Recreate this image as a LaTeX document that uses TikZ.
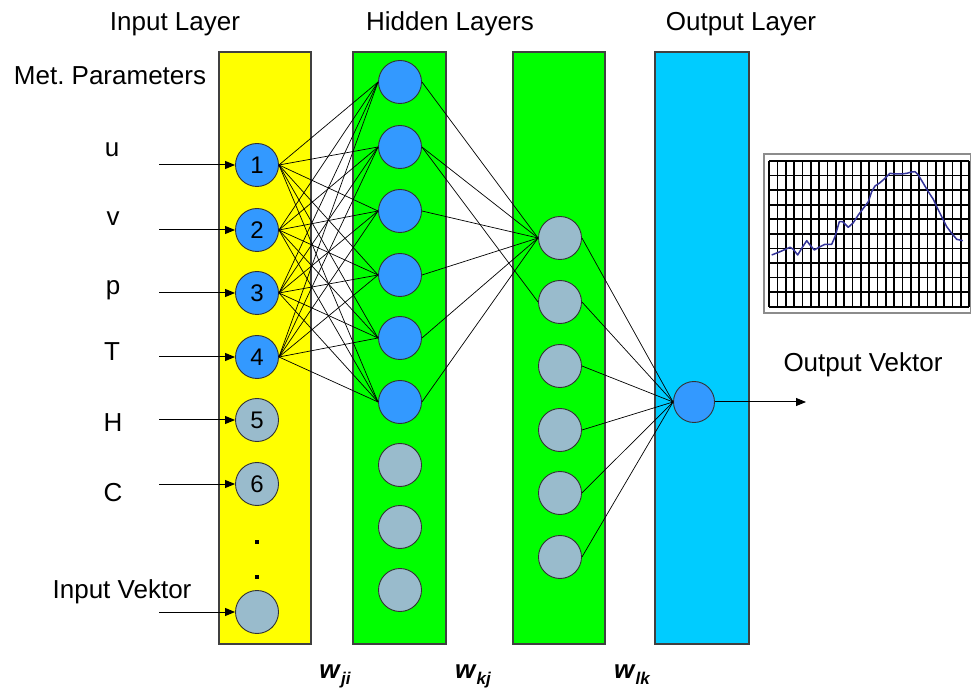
\documentclass[tikz,border=0pt]{standalone}
\usepackage{fontspec}
\setmainfont{Liberation Sans}
\usetikzlibrary{arrows.meta}

\definecolor{layeryellow}{HTML}{FFFF00}
\definecolor{layergreen}{HTML}{00FF00}
\definecolor{layercyan}{HTML}{00CCFF}
\definecolor{unitblue}{HTML}{3399FF}
\definecolor{unitgray}{HTML}{99BBCC}
\definecolor{curveblue}{HTML}{333399}

% weight label: bold italic w with a lowered index
\newcommand{\weight}[1]{\textbf{\textit{w}}\raisebox{-0.5ex}{\fontsize{17}{17}\selectfont\bfseries\itshape #1}}

\begin{document}
\begin{tikzpicture}[x=1pt, y=-1pt, >={Triangle[length=10pt,width=8pt]}]
  \tikzset{layer/.style={draw=black!75, line width=1.2pt},
           unit/.style={draw=black!80, line width=0.9pt, shape=circle, minimum size=43pt,
                        inner sep=0pt, font=\fontsize{24}{24}\selectfont},
           label/.style={font=\fontsize{26}{26}\selectfont},
           title/.style={label, anchor=base},
           wire/.style={line width=0.7pt},
           feed/.style={->, line width=1pt},
           gridline/.style={draw=black, line width=1.7pt}}
  \useasboundingbox (0,0) rectangle (972,692);

  % layer bands
  \draw[layer, fill=layeryellow] (219,52) rectangle (311,644);
  \draw[layer, fill=layergreen] (353,52) rectangle (446,644);
  \draw[layer, fill=layergreen] (513,52) rectangle (605,644);
  \draw[layer, fill=layercyan] (655,52) rectangle (749,644);

  \node[title] (tin) at (175,31) {Input Layer};
  \node[title] (thid) at (450,31) {Hidden Layers};
  \node[title] (tout) at (741,31) {Output Layer};
  \node[title] (tmet) at (110,85) {Met.\ Parameters};
  \node[title] (tvin) at (122,598) {Input Vektor};
  \node[title] (tvout) at (863,372) {Output Vektor};

  % input units
  \foreach \n/\y in {1/165,2/230,3/293,4/357}
    \node[unit, fill=unitblue] (in\n) at (257,\y) {\n};
  \foreach \n/\y in {5/420,6/484}
    \node[unit, fill=unitgray] (in\n) at (257,\y) {\n};
  \node[unit, fill=unitgray] (in7) at (257,612) {};
  \fill (255,540) rectangle (259,544);
  \fill (255,575) rectangle (259,579);

  % met. parameters feeding the inputs
  \foreach \n/\t/\x/\ly in {1/u/112/150,2/v/113/219,3/p/113/290,4/T/112/352,5/H/113/423,6/C/113/493} {
    \node[label] (par\n) at (\x,\ly) {\t};
    \coordinate (src\n) at (159,0 |- in\n);
    \draw[feed] (src\n) -- (in\n);
  }
  \coordinate (src7) at (159,612);
  \draw[feed] (src7) -- (in7);

  % hidden units
  \foreach \n/\y in {1/82,2/147,3/211,4/275,5/338,6/402}
    \node[unit, fill=unitblue] (hid\n) at (400,\y) {};
  \foreach \n/\y in {7/465,8/527,9/590}
    \node[unit, fill=unitgray] (hid\n) at (400,\y) {};
  \foreach \n/\y in {1/238,2/302,3/366,4/430,5/493,6/557}
    \node[unit, fill=unitgray] (sec\n) at (560,\y) {};

  \node[unit, fill=unitblue, minimum size=41pt] (out) at (694,402) {};
  \coordinate (outend) at (806,402);
  \draw[feed] (out) -- (outend);

  % weights
  \foreach \a in {1,...,4}
    \foreach \b in {1,...,6}
      \draw[wire] (in\a.east) -- (hid\b.west);
  \foreach \b in {1,...,6}
    \draw[wire] (hid\b.east) -- (sec1.west);
  \draw[wire] (hid2.east) -- (sec2.west);
  \foreach \b in {1,...,6}
    \draw[wire] (sec\b.east) -- (out.west);

  \node[title] (wji) at (335,678) {\weight{ji}};
  \node[title] (wkj) at (473,678) {\weight{kj}};
  \node[title] (wlk) at (632,678) {\weight{lk}};

  % output chart
  \draw[draw=black!45, line width=1.2pt, fill=white] (764,154) rectangle (970.5,313);
  \foreach \i in {0,...,24}
    \draw[gridline] ({769.3+8.333*\i},161) -- ({769.3+8.333*\i},306.7);
  \foreach \j in {0,...,10}
    \draw[gridline] (769.3,{161+14.57*\j}) -- (969.3,{161+14.57*\j});
  \draw[curveblue, line width=1.5pt, line join=round] plot coordinates {
    (771.7,255) (780,251.7) (790,247.3) (793.3,249.3) (797.7,255) (801.7,248.3)
    (806.7,240.7) (810,245) (814.3,250) (820,246.7) (825,244.3) (831.7,244.3)
    (835,236.7) (839.3,221.7) (842.7,221.7) (848.3,227.3) (853.3,222.7) (858.3,215)
    (863.3,208.3) (868.3,201.7) (871.7,191.7) (875,186) (880,182.7) (885,178.3)
    (890,173.3) (895,174) (901.7,174) (906.7,173.3) (911.7,172) (915,171.7)
    (918.3,175) (923.3,183.3) (928.3,191.7) (933.3,199.3) (936.7,206.7) (941.7,216.7)
    (946.7,226.7) (951.7,233.3) (956.7,239.3) (962.7,240.7)};
\end{tikzpicture}
\end{document}
